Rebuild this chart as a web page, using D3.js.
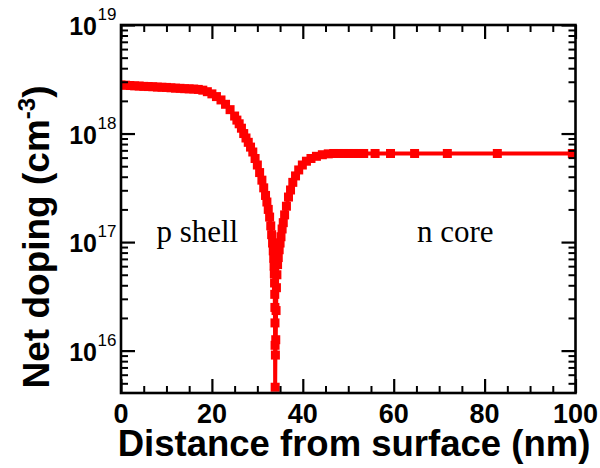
<!DOCTYPE html>
<html>
<head>
<meta charset="utf-8">
<script src="https://cdn.jsdelivr.net/npm/d3@7"></script>
<style>
  body { margin: 0; background: #fff; }
  svg { display: block; }
</style>
</head>
<body>
<svg id="chart"></svg>
<script>
// depth below surface (nm) and net doping (cm^-3)
var depthNm = [0, 1, 2, 3, 4, 5, 6, 7, 8, 9, 10, 11, 12, 13, 14, 15, 16, 17,
  18, 19, 20, 21, 22, 23, 24, 25, 25.5, 26, 26.5, 27, 27.5, 28, 28.5, 29, 29.5,
  30, 30.5, 31, 31.4, 31.8, 32.1, 32.4, 32.7, 32.95, 33.15, 33.35, 33.5, 33.6,
  33.68, 33.74, 33.79, 33.83, 33.86, 33.88, 33.9, 33.92, 33.97, 34.05, 34.12,
  34.2, 34.3, 34.45, 34.6, 34.8, 35.0, 35.2, 35.45, 35.7, 36.0, 36.4, 36.85,
  37.3, 37.8, 38.4, 39.1, 39.9, 40.8, 41.8, 43.0, 44.3, 45.6, 46.8, 47.9, 49.0,
  50.1, 51.2, 52.3, 53.4, 55.9, 59.3, 64.6, 71.8, 82.8, 99.3];
var netDoping = [2.80e18, 2.79e18, 2.77e18, 2.75e18, 2.74e18, 2.72e18, 2.71e18,
  2.70e18, 2.68e18, 2.67e18, 2.66e18, 2.64e18, 2.62e18, 2.61e18, 2.59e18,
  2.58e18, 2.57e18, 2.55e18, 2.51e18, 2.43e18, 2.32e18, 2.19e18, 2.04e18,
  1.86e18, 1.66e18, 1.45e18, 1.33e18, 1.23e18, 1.12e18, 1.00e18, 9.1e17,
  8.3e17, 7.5e17, 6.76e17, 5.89e17, 5.13e17, 4.37e17, 3.72e17, 3.16e17,
  2.69e17, 2.34e17, 2.0e17, 1.70e17, 1.41e17, 1.17e17, 9.8e16, 8.3e16, 7.1e16,
  6.0e16, 5.1e16, 4.2e16, 3.3e16, 2.5e16, 1.8e16, 1.12e16, 4.6e15, 9.1e15,
  1.26e16, 2.34e16, 3.8e16, 5.0e16, 6.2e16, 7.2e16, 8.5e16, 9.8e16, 1.12e17,
  1.32e17, 1.51e17, 1.78e17, 2.14e17, 2.60e17, 3.02e17, 3.55e17, 4.07e17,
  4.62e17, 5.13e17, 5.56e17, 5.89e17, 6.17e17, 6.38e17, 6.50e17, 6.55e17,
  6.55e17, 6.55e17, 6.55e17, 6.55e17, 6.55e17, 6.55e17, 6.55e17, 6.55e17,
  6.55e17, 6.55e17, 6.55e17, 6.55e17];

var xMajorTicks = [0, 20, 40, 60, 80, 100];
var xMinorTicks = [5, 10, 15, 25, 30, 35, 45, 50, 55, 65, 70, 75, 85, 90, 95];
var yExponents = [16, 17, 18, 19];
var yMinorTicks = [5e15, 6e15, 7e15, 8e15, 9e15,
  2e16, 3e16, 4e16, 5e16, 6e16, 7e16, 8e16, 9e16,
  2e17, 3e17, 4e17, 5e17, 6e17, 7e17, 8e17, 9e17,
  2e18, 3e18, 4e18, 5e18, 6e18, 7e18, 8e18, 9e18];
var regionLabels = [{text: "p shell", x: 7.8}, {text: "n core", x: 65.1}];

var W = 600, H = 468;
var mLeft = 121, mRight = 575.5, mTop = 25, mBottom = 393;

var svg = d3.select("#chart").attr("width", W).attr("height", H);

var x = d3.scaleLinear().domain([0, 100]).range([mLeft, mRight]);
var y = d3.scaleLog().domain([4.07e15, 1e19]).range([mBottom, mTop]);

var points = depthNm.map(function(d, i) { return {x: d, y: netDoping[i]}; });

svg.append("clipPath").attr("id", "plotClip")
  .append("rect")
  .attr("x", mLeft).attr("y", mTop)
  .attr("width", mRight - mLeft).attr("height", mBottom - mTop);

var plot = svg.append("g").attr("clip-path", "url(#plotClip)");

var line = d3.line()
  .x(function(d) { return x(d.x); })
  .y(function(d) { return y(d.y); });

plot.append("path")
  .datum(points)
  .attr("d", line)
  .attr("fill", "none")
  .attr("stroke", "#ff0000")
  .attr("stroke-width", 4);

var ms = 9;
plot.selectAll("rect.pt")
  .data(points)
  .enter()
  .append("rect")
  .attr("class", "pt")
  .attr("x", function(d) { return x(d.x) - ms / 2; })
  .attr("y", function(d) { return y(d.y) - ms / 2; })
  .attr("width", ms)
  .attr("height", ms)
  .attr("fill", "#ff0000");

// region labels
svg.selectAll("text.region")
  .data(regionLabels)
  .enter()
  .append("text")
  .attr("class", "region")
  .attr("x", function(d) { return x(d.x); })
  .attr("y", 242)
  .attr("font-family", "'Liberation Serif', 'Times New Roman', serif")
  .attr("font-size", 31)
  .attr("fill", "#000")
  .text(function(d) { return d.text; });

// ticks, all pointing into the plot
function styleTicks(g, w) {
  g.select(".domain").remove();
  g.selectAll(".tick line").attr("stroke", "#000").attr("stroke-width", w);
  g.selectAll(".tick text").remove();
}

var yMajors = yExponents.map(function(e) { return Math.pow(10, e); });

svg.append("g").attr("transform", "translate(" + mLeft + ",0)")
  .call(d3.axisLeft(y).tickValues(yMajors).tickSize(-14))
  .call(styleTicks, 2.2);
svg.append("g").attr("transform", "translate(" + mLeft + ",0)")
  .call(d3.axisLeft(y).tickValues(yMinorTicks).tickSize(-7))
  .call(styleTicks, 2);
svg.append("g").attr("transform", "translate(" + mRight + ",0)")
  .call(d3.axisRight(y).tickValues(yMajors).tickSize(-14))
  .call(styleTicks, 2.2);
svg.append("g").attr("transform", "translate(" + mRight + ",0)")
  .call(d3.axisRight(y).tickValues(yMinorTicks).tickSize(-7))
  .call(styleTicks, 2);

svg.append("g").attr("transform", "translate(0," + mBottom + ")")
  .call(d3.axisBottom(x).tickValues(xMajorTicks).tickSize(-14))
  .call(styleTicks, 2.2);
svg.append("g").attr("transform", "translate(0," + mBottom + ")")
  .call(d3.axisBottom(x).tickValues(xMinorTicks).tickSize(-7))
  .call(styleTicks, 2);
svg.append("g").attr("transform", "translate(0," + mTop + ")")
  .call(d3.axisTop(x).tickValues(xMajorTicks).tickSize(-14))
  .call(styleTicks, 2.2);
svg.append("g").attr("transform", "translate(0," + mTop + ")")
  .call(d3.axisTop(x).tickValues(xMinorTicks).tickSize(-7))
  .call(styleTicks, 2);

// frame
svg.append("rect")
  .attr("x", mLeft).attr("y", mTop)
  .attr("width", mRight - mLeft).attr("height", mBottom - mTop)
  .attr("fill", "none")
  .attr("stroke", "#000")
  .attr("stroke-width", 2.6);

var font = "'Liberation Sans', Arial, Helvetica, sans-serif";

// x tick labels
svg.selectAll("text.xlab")
  .data(xMajorTicks)
  .enter()
  .append("text")
  .attr("class", "xlab")
  .attr("x", function(d) { return x(d); })
  .attr("y", 423)
  .attr("text-anchor", "middle")
  .attr("font-family", font)
  .attr("font-weight", "bold")
  .attr("font-size", 27)
  .text(function(d) { return d; });

// y tick labels: 10 with exponent
var ylab = svg.selectAll("g.ylab")
  .data(yExponents)
  .enter()
  .append("g")
  .attr("class", "ylab");
ylab.append("text")
  .attr("x", 97)
  .attr("y", function(d) { return y(Math.pow(10, d)) + 10; })
  .attr("text-anchor", "end")
  .attr("font-family", font)
  .attr("font-weight", "bold")
  .attr("font-size", 25)
  .text("10");
ylab.append("text")
  .attr("x", 97.5)
  .attr("y", function(d) { return y(Math.pow(10, d)) - 5; })
  .attr("font-family", font)
  .attr("font-size", 17)
  .text(function(d) { return d; });

// axis titles
svg.append("text")
  .attr("x", 354)
  .attr("y", 456)
  .attr("text-anchor", "middle")
  .attr("font-family", font)
  .attr("font-weight", "bold")
  .attr("font-size", 36.5)
  .text("Distance from surface (nm)");

var yt = svg.append("text")
  .attr("transform", "translate(49,237) rotate(-90)")
  .attr("text-anchor", "middle")
  .attr("font-family", font)
  .attr("font-weight", "bold")
  .attr("font-size", 37);
yt.append("tspan").text("Net doping (cm");
yt.append("tspan").attr("dy", -14).attr("font-size", 24).text("-3");
yt.append("tspan").attr("dy", 14).text(")");
</script>
</body>
</html>
